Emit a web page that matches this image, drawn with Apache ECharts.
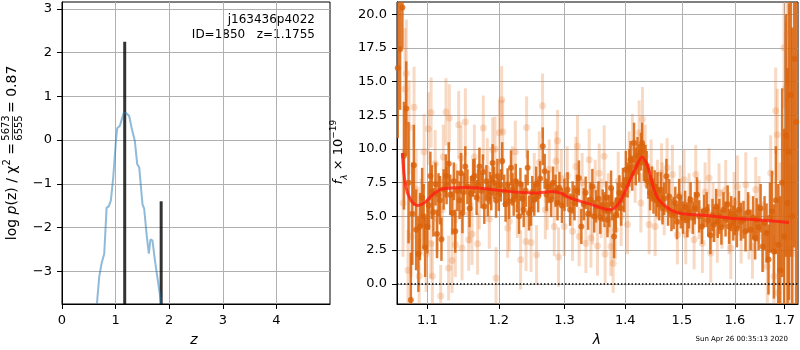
<!DOCTYPE html>
<html>
<head>
<meta charset="utf-8">
<script src="https://cdn.jsdelivr.net/npm/echarts@6/dist/echarts.min.js"></script>
<style>
  html, body { margin: 0; padding: 0; background: #fff; }
  #chart { width: 800px; height: 350px; }
</style>
</head>
<body>
<div id="chart"></div>
<script>
// ---- p(z) panel ----
const zGrid = [0.652, 0.695, 0.739, 0.788, 0.807, 0.832, 0.875, 0.912, 0.956, 1.006, 1.03, 1.08, 1.117, 1.155, 1.205,
  1.254, 1.297, 1.359, 1.403, 1.44, 1.502, 1.533, 1.577, 1.62, 1.651, 1.689, 1.732, 1.813, 1.85];
const logPz = [-3.74, -3.12, -2.82, -2.6, -2.59, -1.55, -1.51, -1.38, -0.85, -0.02, 0.27, 0.33, 0.48, 0.63, 0.61,
  0.55, 0.29, -0.02, -0.55, -0.62, -1.47, -1.57, -2.14, -2.6, -2.27, -2.3, -2.74, -3.42, -3.74];
const zPeaks = [1.17, 1.85];
const zPeakTops = [2.25, -1.4];
const zTicks = [0, 1, 2, 3, 4];
const logPTicks = [-3, -2, -1, 0, 1, 2, 3];

// ---- spectrum panel ----
const lamGood = [1.061, 1.064, 1.067, 1.069, 1.072, 1.075, 1.078, 1.080, 1.082, 1.085, 1.088, 1.090, 1.093, 1.095, 1.097,
  1.100, 1.102, 1.104, 1.106, 1.108, 1.111, 1.113, 1.115, 1.117, 1.119, 1.122, 1.125, 1.126, 1.129, 1.131, 1.134, 1.136,
  1.138, 1.141, 1.144, 1.146, 1.148, 1.150, 1.152, 1.155, 1.158, 1.160, 1.163, 1.165, 1.168, 1.170, 1.172, 1.175, 1.177,
  1.179, 1.182, 1.184, 1.187, 1.189, 1.191, 1.193, 1.196, 1.198, 1.200, 1.203, 1.205, 1.208, 1.210, 1.213, 1.215, 1.218,
  1.220, 1.222, 1.225, 1.227, 1.230, 1.232, 1.235, 1.237, 1.240, 1.243, 1.245, 1.248, 1.250, 1.253, 1.256, 1.259, 1.262,
  1.266, 1.269, 1.272, 1.275, 1.279, 1.282, 1.286, 1.289, 1.292, 1.296, 1.300, 1.305, 1.309, 1.313, 1.316, 1.320, 1.323,
  1.327, 1.331, 1.334, 1.338, 1.342, 1.345, 1.348, 1.351, 1.355, 1.358, 1.362, 1.365, 1.368, 1.370, 1.373, 1.376, 1.378,
  1.381, 1.384, 1.387, 1.390, 1.393, 1.396, 1.398, 1.401, 1.404, 1.407, 1.409, 1.412, 1.415, 1.418, 1.421, 1.424, 1.427,
  1.429, 1.432, 1.435, 1.437, 1.440, 1.443, 1.446, 1.449, 1.451, 1.454, 1.456, 1.459, 1.462, 1.465, 1.468, 1.472, 1.475,
  1.477, 1.481, 1.485, 1.488, 1.491, 1.495, 1.498, 1.502, 1.506, 1.510, 1.513, 1.516, 1.520, 1.524, 1.528, 1.532, 1.537,
  1.541, 1.546, 1.549, 1.553, 1.557, 1.560, 1.564, 1.567, 1.570, 1.574, 1.578, 1.582, 1.586, 1.589, 1.593, 1.597, 1.600,
  1.604, 1.608, 1.612, 1.617, 1.621, 1.626, 1.631, 1.636, 1.640, 1.643, 1.647, 1.651, 1.655, 1.659, 1.663, 1.667, 1.670,
  1.674, 1.678, 1.682, 1.687, 1.691, 1.695, 1.699, 1.703, 1.706, 1.709, 1.713, 1.716, 1.720, 1.724];
const fluxGood = [16.0, 17.4, 20.5, 9.5, 13.0, 7.5, -1.2, 5.2, 8.8, 4.0, 2.2, 4.25, 6.4, 5.0, 2.7,
  4.25, 5.8, 8.0, 6.8, 5.3, 7.4, 3.7, 6.6, 6.2, 3.3, 7.0, 8.0, 7.3, 8.9, 6.6, 5.25, 7.6,
  3.9, 6.9, 6.2, 8.2, 5.25, 6.8, 8.7, 7.2, 5.6, 6.7, 7.85, 8.0, 6.4, 7.3, 8.7, 6.9, 8.3,
  5.74, 7.6, 6.3, 7.1, 6.75, 8.96, 7.5, 6.2, 7.97, 6.6, 7.3, 9.1, 6.9, 5.9, 7.37, 6.1, 8.6,
  7.0, 6.24, 7.6, 6.5, 5.0, 7.4, 6.3, 5.5, 6.9, 8.6, 5.25, 5.5, 6.8, 6.24, 7.4, 6.5, 7.8,
  10.2, 8.34, 6.6, 7.2, 6.24, 7.5, 6.9, 6.0, 7.1, 5.8, 6.6, 6.98, 5.5, 6.4, 6.0, 6.9, 7.85,
  4.25, 5.9, 6.75, 5.2, 6.24, 7.22, 5.0, 5.74, 6.3, 4.9, 5.8, 5.5, 6.4, 4.75, 5.4, 7.1, 5.9,
  3.5, 5.1, 6.2, 6.75, 5.6, 7.3, 6.6, 8.46, 7.7, 8.6, 9.2, 8.2, 10.45, 8.7, 9.5, 8.96, 9.8,
  10.45, 9.0, 8.9, 8.46, 7.6, 6.75, 7.4, 6.5, 7.22, 6.2, 6.98, 5.9, 6.98, 5.6, 6.3, 7.97, 5.5,
  6.48, 5.1, 5.25, 6.0, 4.6, 6.48, 5.3, 4.9, 5.7, 4.75, 5.3, 6.24, 4.9, 5.6, 6.6, 5.0, 4.25,
  5.4, 5.5, 4.7, 3.6, 5.1, 4.4, 5.74, 4.6, 5.0, 4.2, 5.5, 4.8, 5.9, 4.25, 5.2, 4.5, 5.0,
  4.1, 5.5, 4.6, 4.75, 3.9, 5.3, 4.0, 4.9, 3.4, 4.75, 4.2, 5.6, 2.77, 4.5, 3.76, 1.8, 4.9,
  5.37, 2.4, 6.2, 2.9, 1.0, 7.5, 3.5, 11.0, 6.0, 9.8, 14.0, 5.0, 16.7, 12.0];
const errGood = [5.2, 4.5, 3.0, 4.0, 3.5, 4.5, 3.5, 3.8, 3.0, 3.0, 2.8, 2.5, 2.2, 2.4, 2.2,
  2.0, 1.8, 1.8, 2.0, 1.8, 1.6, 1.8, 1.6, 1.8, 1.6, 1.5, 1.6, 1.4, 1.6, 1.5, 1.6, 1.4,
  1.6, 1.5, 1.4, 1.5, 1.5, 1.4, 1.5, 1.3, 1.4, 1.3, 1.4, 1.3, 1.3, 1.2, 1.4, 1.3, 1.3,
  1.3, 1.2, 1.3, 1.2, 1.3, 1.4, 1.2, 1.3, 1.3, 1.2, 1.2, 1.4, 1.2, 1.3, 1.2, 1.3, 1.3,
  1.2, 1.2, 1.3, 1.2, 1.3, 1.2, 1.2, 1.3, 1.2, 1.3, 1.3, 1.2, 1.2, 1.2, 1.3, 1.2, 1.3,
  1.4, 1.3, 1.2, 1.2, 1.3, 1.2, 1.2, 1.3, 1.2, 1.3, 1.2, 1.3, 1.2, 1.2, 1.3, 1.2, 1.3,
  1.3, 1.2, 1.2, 1.2, 1.3, 1.3, 1.2, 1.2, 1.3, 1.2, 1.2, 1.3, 1.2, 1.3, 1.2, 1.3, 1.2,
  1.6, 1.3, 1.3, 1.3, 1.3, 1.3, 1.3, 1.4, 1.3, 1.4, 1.4, 1.3, 1.5, 1.4, 1.4, 1.4, 1.4,
  1.5, 1.4, 1.4, 1.4, 1.3, 1.3, 1.3, 1.3, 1.2, 1.2, 1.3, 1.2, 1.3, 1.2, 1.2, 1.3, 1.2,
  1.3, 1.2, 1.2, 1.2, 1.3, 1.3, 1.2, 1.2, 1.2, 1.3, 1.2, 1.3, 1.2, 1.2, 1.3, 1.2, 1.3,
  1.2, 1.3, 1.2, 1.4, 1.2, 1.3, 1.3, 1.2, 1.3, 1.3, 1.3, 1.3, 1.4, 1.3, 1.3, 1.3, 1.4,
  1.4, 1.4, 1.4, 1.4, 1.5, 1.5, 1.5, 1.6, 1.6, 1.6, 1.7, 1.8, 1.9, 2.0, 2.2, 2.6, 2.6,
  3.0, 3.5, 4.0, 4.5, 5.5, 7.0, 8.0, 9.0, 10.0, 11.0, 12.0, 14.0, 14.0, 15.0];

const lamFaint = [1.0678, 1.0704, 1.0721, 1.0743, 1.0757, 1.0784, 1.0823, 1.0850, 1.0890, 1.0916, 1.0956, 1.0983, 1.1013,
  1.1046, 1.1050, 1.1067, 1.1105, 1.1132, 1.1180, 1.1200, 1.1215, 1.1252, 1.1288, 1.1298, 1.1335, 1.1381, 1.1390, 1.1427,
  1.1460, 1.1474, 1.1521, 1.1568, 1.1577, 1.1615, 1.1648, 1.1694, 1.1718, 1.1776, 1.1833, 1.1862, 1.1910, 1.1945, 1.1960,
  1.2008, 1.2042, 1.2057, 1.2130, 1.2155, 1.2200, 1.2244, 1.2274, 1.2323, 1.2405, 1.2414, 1.2481, 1.2530, 1.2565, 1.2607,
  1.2658, 1.2700, 1.2730, 1.2761, 1.2839, 1.2866, 1.2891, 1.2907, 1.2950, 1.2996, 1.3043, 1.3128, 1.3182, 1.3208, 1.3235,
  1.3284, 1.3344, 1.3398, 1.3426, 1.3453, 1.3496, 1.3534, 1.3562, 1.3595, 1.3645, 1.3660, 1.3711, 1.3756, 1.3795, 1.3830,
  1.3880, 1.3930, 1.4038, 1.4066, 1.4123, 1.4169, 1.4239, 1.4268, 1.4297, 1.4343, 1.4413, 1.4448, 1.4519, 1.4560, 1.4633,
  1.4643, 1.4680, 1.4732, 1.4828, 1.4918, 1.4967, 1.5040, 1.5071, 1.5132, 1.5225, 1.5256, 1.5318, 1.5380, 1.5430, 1.5505,
  1.5537, 1.5580, 1.5662, 1.5695, 1.5750, 1.5823, 1.5888, 1.5921, 1.5985, 1.6050, 1.6122, 1.6214, 1.6279, 1.6346, 1.6412,
  1.6479, 1.6559, 1.6646, 1.6714, 1.6782, 1.6816, 1.6849, 1.6870, 1.6905, 1.6988, 1.7023, 1.7057, 1.7114, 1.7175];
const fluxFaint = [6.0, 14.45, 15.6, 1.0, 11.6, 3.5, 13.1, 7.0, 0.55, 5.0, 9.8, 2.2, 11.5,
  3.0, 12.7, 0.55, 8.9, 4.8, -0.9, 5.5, 9.4, 12.75, 1.17, 12.3, 1.73, 2.9, 6.7, 11.8,
  9.33, 2.65, 12.0, 3.27, 5.2, 3.7, 9.4, 2.97, 6.24, 11.56, 8.5, 4.8, 9.95, 10.0, 0.42,
  11.2, 13.65, 11.25, 4.13, 4.62, 8.0, 9.8, 5.6, 1.78, 3.14, 11.6, 3.07, 7.5, 2.15, 9.0,
  13.2, 5.5, 6.2, 8.5, 4.25, 9.1, 10.6, 1.98, 7.8, 4.25, 8.0, 3.9, 8.7, 10.2, 3.5,
  7.5, 3.0, 9.2, 3.4, 5.12, 7.0, 2.8, 8.2, 5.6, 9.45, 2.2, 6.0, 2.77, 1.53, 4.0,
  7.6, 5.0, 4.4, 9.0, 10.3, 8.3, 11.2, 6.0, 12.2, 9.5, 4.4, 8.5, 4.25, 7.0, 8.22,
  6.8, 5.8, 8.6, 8.1, 3.64, 6.6, 7.72, 3.64, 6.0, 3.27, 8.1, 5.5, 3.0, 6.8, 7.85,
  2.28, 5.3, 3.76, 6.73, 4.8, 6.98, 4.5, 2.65, 6.0, 7.22, 3.8, 7.35, 4.2, 2.77, 7.0,
  5.5, 3.5, 1.28, 8.22, 0.55, 12.84, 11.06, -0.69, 5.0, 17.5, 14.5, 18.5, 3.0, 9.0];
const errFaint = [4.0, 4.5, 4.0, 3.0, 3.5, 3.0, 3.0, 3.0, 2.8, 2.8, 2.8, 2.8, 2.7,
  2.6, 2.6, 2.6, 2.5, 2.5, 2.3, 2.3, 2.4, 2.5, 2.4, 2.5, 2.4, 2.4, 2.2, 2.5,
  2.4, 2.4, 2.5, 2.3, 2.2, 2.3, 2.4, 2.3, 2.2, 2.4, 2.3, 2.2, 2.4, 2.4, 2.3,
  2.4, 2.5, 2.4, 2.2, 2.2, 2.2, 2.3, 2.2, 2.2, 2.2, 2.3, 2.2, 2.2, 2.2, 2.3,
  2.4, 2.2, 2.2, 2.2, 2.2, 2.2, 2.3, 2.2, 2.2, 2.2, 2.2, 2.2, 2.2, 2.3, 2.2,
  2.2, 2.2, 2.3, 2.2, 2.2, 2.2, 2.2, 2.2, 2.2, 2.3, 2.2, 2.2, 2.2, 2.2, 2.2,
  2.2, 2.2, 2.2, 2.3, 2.3, 2.3, 2.4, 2.2, 2.4, 2.3, 2.2, 2.2, 2.2, 2.2, 2.2,
  2.2, 2.2, 2.2, 2.2, 2.2, 2.2, 2.2, 2.2, 2.2, 2.2, 2.2, 2.2, 2.2, 2.2, 2.2,
  2.2, 2.2, 2.2, 2.2, 2.2, 2.2, 2.3, 2.3, 2.3, 2.3, 2.3, 2.4, 2.4, 2.4, 2.4,
  2.5, 2.6, 2.7, 2.8, 3.0, 3.2, 3.4, 3.5, 4.0, 4.5, 5.0, 5.0, 6.0, 7.0];

const lamModel = [1.067, 1.071, 1.078, 1.087, 1.096, 1.105, 1.118, 1.132, 1.150, 1.172, 1.196, 1.225, 1.255, 1.281,
  1.295, 1.307, 1.320, 1.345, 1.365, 1.375, 1.385, 1.395, 1.405, 1.418, 1.429, 1.437, 1.443, 1.450, 1.459, 1.475,
  1.490, 1.510, 1.550, 1.595, 1.621, 1.661, 1.709];
const fluxModel = [9.7, 7.3, 6.2, 5.8, 6.0, 6.5, 7.0, 7.1, 7.15, 7.1, 6.95, 6.8, 6.73, 6.85,
  6.7, 6.4, 6.2, 5.85, 5.55, 5.5, 5.75, 6.4, 7.4, 8.6, 9.4, 8.9, 8.1, 7.0, 6.2, 5.6,
  5.3, 5.15, 5.05, 4.85, 4.8, 4.7, 4.55];
const lamTicks = [1.1, 1.2, 1.3, 1.4, 1.5, 1.6, 1.7];
const fluxTicks = [0, 2.5, 5, 7.5, 10, 12.5, 15, 17.5, 20];

const FONT = 'DejaVu Sans';
const mpl = v => (v < 0 ? '\u2212' + Math.abs(v) : String(v));

function errBars(color, width) {
  return function (params, api) {
    const p1 = api.coord([api.value(0), api.value(1)]);
    const p2 = api.coord([api.value(0), api.value(2)]);
    return {
      type: 'line',
      shape: { x1: p1[0], y1: p1[1], x2: p2[0], y2: p2[1] },
      style: { stroke: color, lineWidth: width }
    };
  };
}

const axisCommon = {
  axisLine: { show: true, onZero: false, lineStyle: { color: '#000', width: 1 } },
  axisTick: { show: true, length: 5, lineStyle: { color: '#000' } },
  splitLine: { show: true, lineStyle: { color: '#b0b0b0', width: 1 } },
  axisLabel: { color: '#000', fontFamily: FONT, fontSize: 13, margin: 10 }
};

function axis(extra, ticks, fmt) {
  return Object.assign({}, axisCommon, extra, {
    axisTick: Object.assign({}, axisCommon.axisTick, { customValues: ticks }),
    axisLabel: Object.assign({}, axisCommon.axisLabel, { customValues: ticks, formatter: fmt })
  });
}

// text helper for the graphic layer
function txt(x, y, text, size, align, extra) {
  return {
    type: 'text', x: x, y: y,
    style: Object.assign({
      text: text, fontFamily: FONT, fontSize: size, fill: '#000',
      align: align, verticalAlign: 'middle', textAlign: align, textVerticalAlign: 'middle'
    }, extra || {})
  };
}

const chart = echarts.init(document.getElementById('chart'), null, { renderer: 'canvas' });

const pzMin = -3.75;
const specMin = -1.5;

chart.setOption({
  animation: false,
  backgroundColor: '#fff',
  grid: [
    { left: 62, top: 2, width: 268, height: 302, show: true, borderColor: '#000', borderWidth: 1, backgroundColor: 'transparent' },
    { left: 397, top: 2, width: 401, height: 302, show: true, borderColor: '#000', borderWidth: 1, backgroundColor: 'transparent' }
  ],
  xAxis: [
    axis({ type: 'value', gridIndex: 0, min: 0, max: 5 }, zTicks, v => mpl(v)),
    axis({ type: 'log', logBase: 10, gridIndex: 1, min: 1.06, max: 1.728 }, lamTicks, v => Number(v).toFixed(1))
  ],
  yAxis: [
    axis({ type: 'value', gridIndex: 0, min: pzMin, max: 3.16 }, logPTicks, v => mpl(v)),
    axis({ type: 'value', gridIndex: 1, min: specMin, max: 20.9 }, fluxTicks, v => Number(v).toFixed(1))
  ],
  series: [
    {
      type: 'line', xAxisIndex: 0, yAxisIndex: 0, clip: true,
      data: zGrid.map((z, i) => [z, logPz[i]]),
      symbol: 'none',
      lineStyle: { color: 'rgba(31,119,180,0.5)', width: 2 }
    },
    {
      type: 'custom', xAxisIndex: 0, yAxisIndex: 0, clip: true,
      data: zPeaks.map((z, i) => [z, pzMin, zPeakTops[i]]),
      renderItem: errBars('rgba(0,0,0,0.8)', 3)
    },
    {
      type: 'custom', xAxisIndex: 1, yAxisIndex: 1, clip: true,
      data: lamFaint.map((l, i) => [l, fluxFaint[i] - errFaint[i], fluxFaint[i] + errFaint[i]]),
      renderItem: errBars('rgba(230,120,40,0.28)', 3)
    },
    {
      type: 'scatter', xAxisIndex: 1, yAxisIndex: 1, clip: true,
      data: lamFaint.map((l, i) => [l, fluxFaint[i]]),
      symbolSize: 7,
      itemStyle: { color: 'rgba(230,120,40,0.3)' }
    },
    {
      type: 'custom', xAxisIndex: 1, yAxisIndex: 1, clip: true,
      data: lamGood.map((l, i) => [l, fluxGood[i] - errGood[i], fluxGood[i] + errGood[i]]),
      renderItem: errBars('rgba(217,98,8,0.85)', 2.5)
    },
    {
      type: 'scatter', xAxisIndex: 1, yAxisIndex: 1, clip: true,
      data: lamGood.map((l, i) => [l, fluxGood[i]]),
      symbolSize: 6,
      itemStyle: { color: '#d9620a' }
    },
    {
      type: 'line', xAxisIndex: 1, yAxisIndex: 1, clip: true, smooth: 0.3,
      data: lamModel.map((l, i) => [l, fluxModel[i]]),
      symbol: 'none',
      lineStyle: { color: 'rgba(255,30,20,0.8)', width: 3 },
      z: 5,
      markLine: {
        silent: true, symbol: 'none', label: { show: false },
        lineStyle: { color: '#000', type: [1.5, 2], width: 1.5 },
        data: [{ yAxis: 0 }]
      }
    }
  ],
  graphic: [
    txt(315, 20, 'j163436p4022', 12, 'right'),
    txt(315, 35, 'ID=1850   z=1.1755', 12, 'right'),
    txt(194, 340, 'z', 14, 'center', { fontStyle: 'italic' }),
    txt(597, 340, 'λ', 14, 'center', { fontStyle: 'italic' }),
    txt(788, 339, 'Sun Apr 26 00:35:13 2020', 7, 'right'),
    {
      // log p(z) / chi^2 label, reads bottom to top
      type: 'group', x: 12, y: 154, rotation: Math.PI / 2,
      children: [
        txt(11, 0, '{n|log }{i|p}{n|(z) / χ}{s|2}{n| =}', 14, 'right', {
          rich: {
            n: { fontFamily: FONT, fontSize: 14, lineHeight: 20 },
            i: { fontFamily: FONT, fontSize: 14, fontStyle: 'italic', lineHeight: 20 },
            s: { fontFamily: FONT, fontSize: 10, verticalAlign: 'top', lineHeight: 20 }
          }
        }),
        txt(26, -6, '5673', 10, 'center'),
        { type: 'line', shape: { x1: 14, y1: 0.5, x2: 38, y2: 0.5 }, style: { stroke: '#000', lineWidth: 0.8 } },
        txt(26, 7, '6555', 10, 'center'),
        txt(41, 0, '= 0.87', 14, 'left')
      ]
    },
    {
      type: 'group', x: 339, y: 152, rotation: Math.PI / 2,
      children: [
        txt(0, 0, '{i|f}{sub|λ}{n| × 10}{sup|−19}', 13, 'center', {
          rich: {
            n: { fontFamily: FONT, fontSize: 13, lineHeight: 20 },
            i: { fontFamily: FONT, fontSize: 13, fontStyle: 'italic', lineHeight: 20 },
            sub: { fontFamily: FONT, fontSize: 9, fontStyle: 'italic', verticalAlign: 'bottom', lineHeight: 20 },
            sup: { fontFamily: FONT, fontSize: 9, verticalAlign: 'top', lineHeight: 20 }
          }
        })
      ]
    }
  ]
});
</script>
</body>
</html>
